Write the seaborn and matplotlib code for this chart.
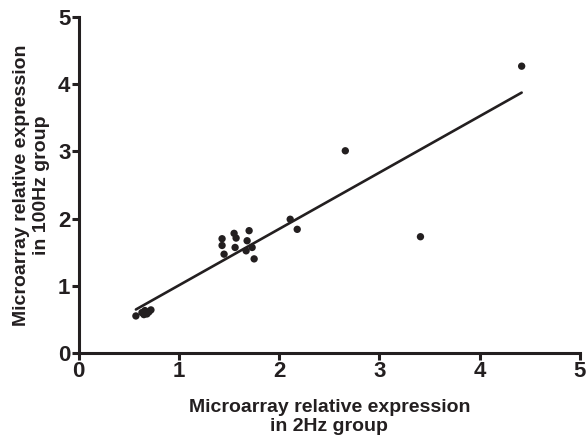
import numpy as np
import pandas as pd
import matplotlib
matplotlib.use('Agg')
import matplotlib.pyplot as plt
import seaborn as sns

# relative expression values
expr_2hz = [0.57, 0.63, 0.65, 0.66, 0.68, 0.70, 0.72,
            1.43, 1.43, 1.45, 1.55, 1.57, 1.56, 1.70, 1.68, 1.67, 1.73, 1.75,
            2.11, 2.18, 2.66, 3.41, 4.42]
expr_100hz = [0.55, 0.60, 0.57, 0.63, 0.58, 0.61, 0.64,
              1.70, 1.60, 1.47, 1.78, 1.71, 1.57, 1.82, 1.67, 1.52, 1.57, 1.40,
              1.99, 1.84, 3.01, 1.73, 4.27]
ticks = [0, 1, 2, 3, 4, 5]

df = pd.DataFrame({'x': expr_2hz, 'y': expr_100hz})

sns.set_style('ticks')
plt.rcParams['font.family'] = ['Liberation Sans', 'DejaVu Sans']
plt.rcParams['font.weight'] = 'bold'

fig = plt.figure(figsize=(5.88, 4.4), dpi=100)
ax = fig.add_axes([0.134, 0.198, 0.852, 0.763])

sns.scatterplot(data=df, x='x', y='y', color='#231f20', s=28, edgecolor='none', ax=ax, zorder=3)
# linear fit, drawn over the data range
sns.regplot(data=df, x='x', y='y', ci=None, scatter=False, ax=ax,
            line_kws={'color': '#231f20', 'lw': 1.9})

ax.set_xlim(0, 5)
ax.set_ylim(0, 5)
ax.set_xticks(ticks)
ax.set_yticks(ticks)
ax.set_xticklabels(ticks, fontsize=16, fontweight='bold', color='#231f20')
ax.set_yticklabels(ticks, fontsize=16, fontweight='bold', color='#231f20')
ax.set_xlabel('Microarray relative expression\nin 2Hz group', fontsize=14, fontweight='bold', color='#231f20', labelpad=12)
ax.set_ylabel('Microarray relative expression\nin 100Hz group', fontsize=14, fontweight='bold', color='#231f20', labelpad=6)

for s in ['top', 'right']:
    ax.spines[s].set_visible(False)
for s in ['left', 'bottom']:
    ax.spines[s].set_linewidth(2.2)
    ax.spines[s].set_color('#231f20')
ax.tick_params(width=2.2, length=5, color='#231f20', pad=1)

fig.savefig('out.png', dpi=100)
